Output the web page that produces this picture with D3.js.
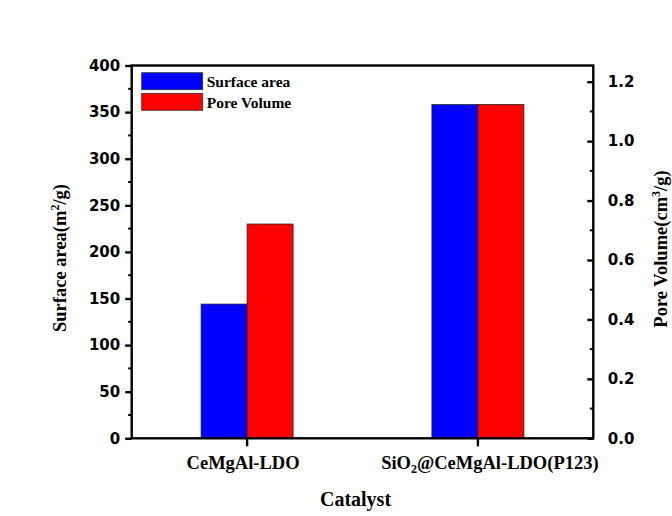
<!DOCTYPE html>
<html>
<head>
<meta charset="utf-8">
<script src="https://cdn.jsdelivr.net/npm/d3@7"></script>
<style>
  html, body { margin: 0; padding: 0; background: #fff; }
  svg { display: block; }
  .tick text { font-family: "DejaVu Sans", sans-serif; font-weight: bold; font-size: 15px; fill: #000; }
  .serif { font-family: "Liberation Serif", "Times New Roman", serif; font-weight: bold; fill: #000; }
</style>
</head>
<body>
<script>
// ---- data ----
const categories = ["CeMgAl-LDO", "SiO2@CeMgAl-LDO(P123)"];
const series = ["Surface area", "Pore Volume"];
const surfaceArea = [144, 358];        // m2/g  (left axis)
const poreVolume = [0.721, 1.123];     // cm3/g (right axis)
const leftTicks = [0, 50, 100, 150, 200, 250, 300, 350, 400];
const rightTicks = [0, 0.2, 0.4, 0.6, 0.8, 1.0, 1.2];
const colors = ["#0000ff", "#ff0000"];

// ---- layout ----
const W = 672, H = 516;
const L = 131.7, R = 593.3, T = 65.5, B = 438.3;

const svg = d3.select("body").append("svg").attr("width", W).attr("height", H);

const x = d3.scaleBand().domain(categories).range([L, R]).paddingInner(0).paddingOuter(0);
const barW = 46;
const xs = d3.scaleBand().domain(series).range([-barW, barW]).padding(0);
const yL = d3.scaleLinear().domain([0, 400]).range([B, T]);
const yR = d3.scaleLinear().domain([0, 1.2]).range([B, 81.7]);

// bars
const g = svg.append("g");
categories.forEach((c, i) => {
  const cx = x(c) + x.bandwidth() / 2;
  g.append("rect")
    .attr("x", cx + xs(series[0])).attr("width", xs.bandwidth())
    .attr("y", yL(surfaceArea[i])).attr("height", yL(0) - yL(surfaceArea[i]))
    .attr("fill", colors[0]).attr("stroke", "#222").attr("stroke-width", 0.8);
  g.append("rect")
    .attr("x", cx + xs(series[1])).attr("width", xs.bandwidth())
    .attr("y", yR(poreVolume[i])).attr("height", yR(0) - yR(poreVolume[i]))
    .attr("fill", colors[1]).attr("stroke", "#222").attr("stroke-width", 0.8);
});

// minor ticks
const lw = 2.4;
const minorL = d3.range(25, 400, 50);
const minorR = d3.range(0.1, 1.2, 0.2);
svg.append("g").selectAll("line").data(minorL).join("line")
  .attr("x1", L - 3.5).attr("x2", L).attr("y1", d => yL(d)).attr("y2", d => yL(d))
  .attr("stroke", "#000").attr("stroke-width", 2);
svg.append("g").selectAll("line").data(minorR).join("line")
  .attr("x1", R - 3.5).attr("x2", R).attr("y1", d => yR(d)).attr("y2", d => yR(d))
  .attr("stroke", "#000").attr("stroke-width", 2);

// axes
const axL = svg.append("g").attr("transform", `translate(${L},0)`)
  .call(d3.axisLeft(yL).tickValues(leftTicks).tickFormat(d3.format("d")).tickSize(6.5).tickPadding(5));
const axR = svg.append("g").attr("transform", `translate(${R},0)`)
  .call(d3.axisRight(yR).tickValues(rightTicks).tickFormat(d3.format(".1f")).tickSize(-6).tickPadding(14.5));
const axB = svg.append("g").attr("transform", `translate(0,${B})`)
  .call(d3.axisBottom(x).tickSize(8).tickFormat(""));
[axL, axR, axB].forEach(a => {
  a.select(".domain").remove();
  a.selectAll(".tick line").attr("stroke", "#000").attr("stroke-width", lw);
});

// frame
svg.append("rect").attr("x", L).attr("y", T).attr("width", R - L).attr("height", B - T)
  .attr("fill", "none").attr("stroke", "#000").attr("stroke-width", lw);

// category labels
const catShift = [-4, 12];
const catText = svg.append("g").selectAll("text").data(categories).join("text")
  .attr("class", "serif").attr("font-size", 18.5).attr("text-anchor", "middle")
  .attr("x", (d, i) => x(d) + x.bandwidth() / 2 + catShift[i]).attr("y", 468.5);
catText.each(function (d) {
  const t = d3.select(this);
  const m = d.match(/^(SiO)(2)(.*)$/);
  if (m) {
    t.append("tspan").text(m[1]);
    t.append("tspan").attr("font-size", 12).attr("dy", 4).text(m[2]);
    t.append("tspan").attr("dy", -4).text(m[3]);
  } else t.text(d);
});

// axis titles
svg.append("text").attr("class", "serif").attr("font-size", 20).attr("text-anchor", "middle")
  .attr("x", 355.5).attr("y", 506).text("Catalyst");

const ylab = svg.append("text").attr("class", "serif").attr("font-size", 18.5).attr("text-anchor", "middle")
  .attr("transform", "translate(66,258) rotate(-90)");
ylab.append("tspan").text("Surface area(m");
ylab.append("tspan").attr("font-size", 12).attr("dy", -7).text("2");
ylab.append("tspan").attr("dy", 7).text("/g)");

const yrlab = svg.append("text").attr("class", "serif").attr("font-size", 18.5).attr("text-anchor", "middle")
  .attr("transform", "translate(667,249) rotate(-90)");
yrlab.append("tspan").text("Pore Volume(cm");
yrlab.append("tspan").attr("font-size", 12).attr("dy", -7).text("3");
yrlab.append("tspan").attr("dy", 7).text("/g)");

// legend
const leg = svg.append("g");
const legY = [72.7, 93.3];
series.forEach((s, i) => {
  leg.append("rect").attr("x", 141.7).attr("y", legY[i]).attr("width", 61).attr("height", 17)
    .attr("fill", colors[i]).attr("stroke", "#333").attr("stroke-width", 0.8);
  leg.append("text").attr("class", "serif").attr("font-size", 15.5)
    .attr("x", 206.7).attr("y", legY[i] + 14.5).text(s);
});
</script>
</body>
</html>
